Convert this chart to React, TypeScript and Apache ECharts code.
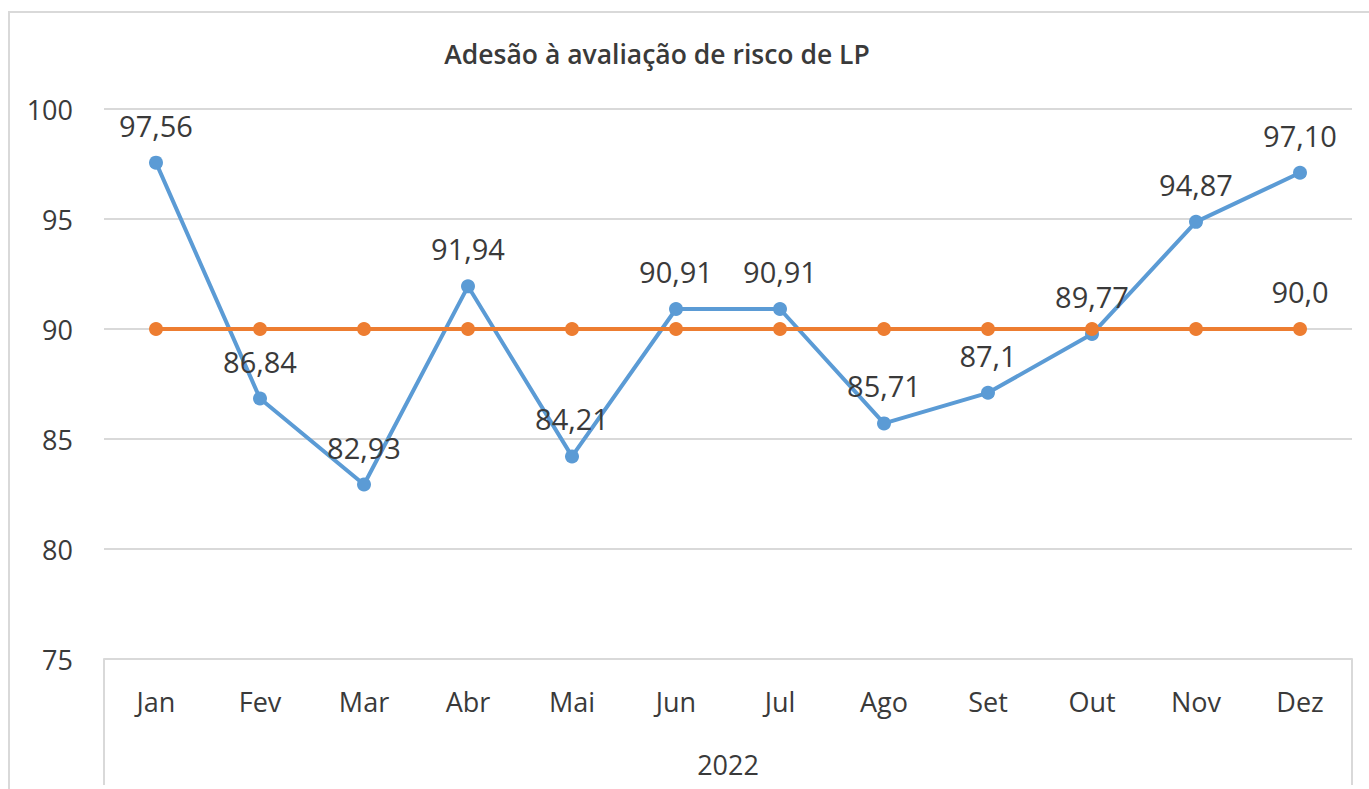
import React, { useEffect, useRef } from "react";
import * as echarts from "echarts";

const title = "Adesão à avaliação de risco de LP";
const months = ["Jan", "Fev", "Mar", "Abr", "Mai", "Jun", "Jul", "Ago", "Set", "Out", "Nov", "Dez"];
const yearLabel = ["2022"];
const adesao = [97.56, 86.84, 82.93, 91.94, 84.21, 90.91, 90.91, 85.71, 87.1, 89.77, 94.87, 97.1];
const adesaoLabels = ["97,56", "86,84", "82,93", "91,94", "84,21", "90,91", "90,91", "85,71", "87,1", "89,77", "94,87", "97,10"];
const meta = [90, 90, 90, 90, 90, 90, 90, 90, 90, 90, 90, 90];
const metaLabels = ["", "", "", "", "", "", "", "", "", "", "", "90,0"];

const FONT = "Open Sans";
const TXT = "#3a3a3a";

export default function App() {
  const ref = useRef<HTMLDivElement>(null);
  useEffect(() => {
    if (!ref.current) return;
    const chart = echarts.init(ref.current, undefined, { renderer: "svg" });
    chart.setOption({
      animation: false,
      backgroundColor: "#ffffff",
      textStyle: { fontFamily: FONT },
      title: {
        text: title,
        left: 652,
        textAlign: "center",
        top: 35,
        textStyle: { fontFamily: FONT, fontWeight: 600, fontSize: 26.5, color: TXT },
      },
      graphic: [
        {
          type: "rect",
          shape: { x: 9, y: 12, width: 1400, height: 800 },
          style: { fill: "none", stroke: "#d9d9d9", lineWidth: 2 },
          silent: true,
        },
      ],
      grid: { left: 104, right: 17, top: 109, bottom: 130, containLabel: false },
      xAxis: [
        {
          type: "category",
          data: months,
          boundaryGap: true,
          axisLine: { show: true, lineStyle: { color: "#d9d9d9", width: 2 } },
          axisTick: { show: false },
          axisLabel: { fontFamily: FONT, fontSize: 27, color: TXT, margin: 29 },
        },
        {
          type: "category",
          data: yearLabel,
          position: "bottom",
          boundaryGap: true,
          axisLine: { show: false },
          axisTick: { show: true, length: 126, lineStyle: { color: "#d9d9d9", width: 2 } },
          axisLabel: { fontFamily: FONT, fontSize: 27, color: TXT, margin: 92 },
        },
      ],
      yAxis: {
        type: "value",
        min: 75,
        max: 100,
        interval: 5,
        axisLine: { show: false },
        axisTick: { show: false },
        splitLine: { lineStyle: { color: "#d9d9d9", width: 2 } },
        axisLabel: { fontFamily: FONT, fontSize: 27, color: TXT, margin: 31 },
      },
      series: [
        {
          type: "line",
          name: "Adesão",
          data: adesao,
          symbol: "circle",
          symbolSize: 14,
          lineStyle: { color: "#5b9bd5", width: 4 },
          itemStyle: { color: "#5b9bd5" },
          label: {
            show: true,
            position: "top",
            distance: 16,
            fontFamily: FONT,
            fontSize: 29,
            color: TXT,
            formatter: (p: any) => adesaoLabels[p.dataIndex],
          },
          z: 2,
        },
        {
          type: "line",
          name: "Meta",
          data: meta,
          symbol: "circle",
          symbolSize: 14,
          lineStyle: { color: "#ed7d31", width: 4 },
          itemStyle: { color: "#ed7d31" },
          label: {
            show: true,
            position: "top",
            distance: 16,
            fontFamily: FONT,
            fontSize: 29,
            color: TXT,
            formatter: (p: any) => metaLabels[p.dataIndex],
          },
          z: 3,
        },
      ],
    });
    return () => chart.dispose();
  }, []);
  return (
    <div
      ref={ref}
      style={{ position: "fixed", left: 0, top: 0, width: 1369, height: 789 }}
    />
  );
}
